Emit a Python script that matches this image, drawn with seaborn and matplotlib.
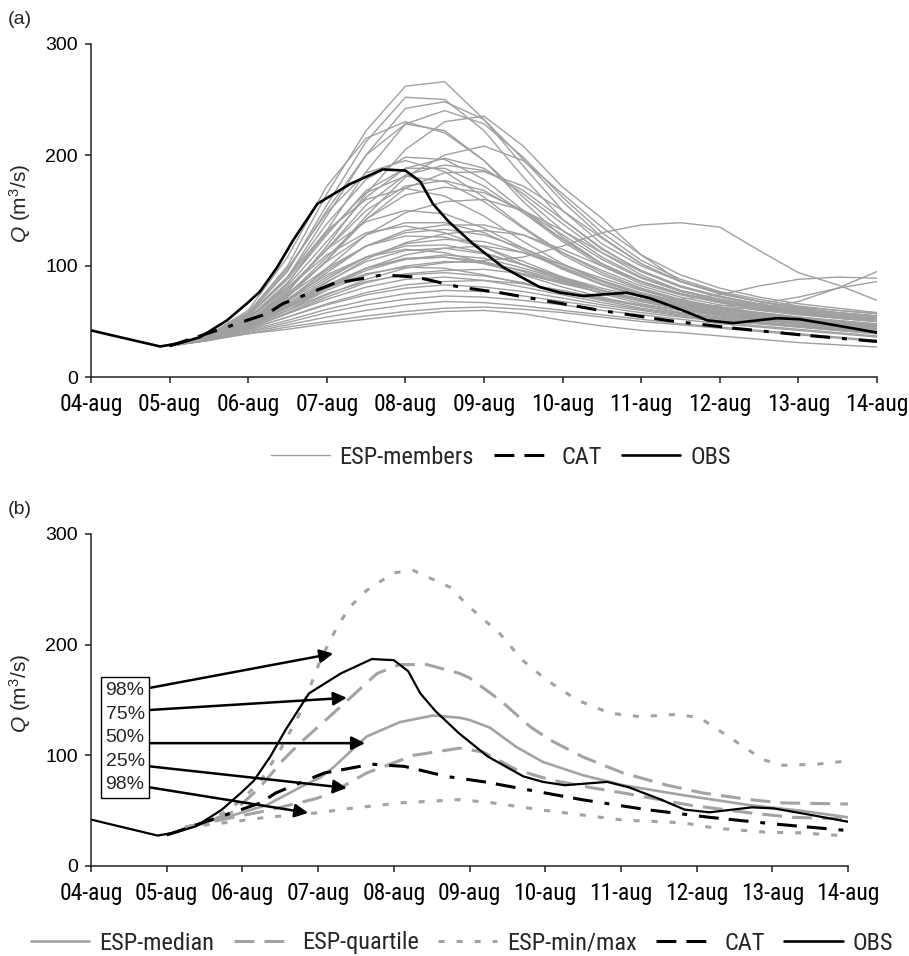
import numpy as np
import pandas as pd
import matplotlib
matplotlib.use("Agg")
import matplotlib.pyplot as plt
from matplotlib.lines import Line2D
from matplotlib import font_manager as fm
from matplotlib.font_manager import FontProperties
import seaborn as sns

# ---------------- data ----------------
tick_labels = ["04-aug", "05-aug", "06-aug", "07-aug", "08-aug", "09-aug",
               "10-aug", "11-aug", "12-aug", "13-aug", "14-aug"]

obs_days = [0, 0.24, 0.88, 1.13, 1.39, 1.73, 1.98, 2.15, 2.37, 2.57, 2.88, 3.30,
            3.71, 4.0, 4.19, 4.35, 4.55, 4.86, 5.24, 5.71, 5.97, 6.26, 6.82, 7.11,
            7.53, 7.84, 8.17, 8.73, 9.02, 9.44, 10.0]
obs_q = [42, 38, 27.5, 30.5, 36, 51, 66, 77, 99, 123, 156, 174,
         187, 186, 176, 156, 140, 120, 99, 81, 76, 73, 76, 71,
         60, 51, 48.5, 53, 52, 47, 40]

cat_days = [1.0, 1.43, 2.24, 2.44, 3.08, 3.71, 4.14, 4.69, 5.2, 5.84, 6.48,
            7.33, 8.17, 9.02, 10.0]
cat_q = [28, 38, 57, 66, 84, 92, 90, 81, 76, 68, 60, 51, 44, 38, 32]

member_days = [1, 1.5, 2, 2.5, 3, 3.5, 4, 4.5, 5, 5.5, 6, 6.5, 7, 7.5, 8, 8.5, 9, 9.5, 10]
esp_members = [
    [28, 38, 58, 100, 165, 222, 262, 266, 232, 190, 150, 120, 100, 86, 76, 68, 62, 58, 55],
    [28, 38, 57, 95, 155, 212, 252, 250, 222, 180, 142, 115, 96, 82, 72, 65, 60, 56, 53],
    [28, 37, 55, 90, 145, 200, 242, 248, 232, 196, 158, 126, 102, 86, 75, 68, 62, 58, 55],
    [28, 36, 52, 84, 132, 185, 228, 240, 228, 198, 162, 130, 105, 88, 77, 70, 64, 60, 57],
    [28, 35, 50, 76, 118, 165, 205, 230, 235, 208, 171, 143, 110, 86, 76, 68, 63, 60, 57],
    [28, 38, 60, 108, 172, 215, 230, 220, 195, 162, 132, 108, 90, 78, 70, 64, 59, 55, 52],
    [28, 37, 56, 96, 150, 200, 228, 222, 195, 158, 126, 102, 86, 75, 68, 62, 58, 54, 51],
    [28, 35, 48, 72, 105, 145, 180, 200, 208, 195, 165, 135, 110, 92, 80, 72, 66, 62, 58],
    [28, 37, 55, 90, 138, 178, 198, 196, 178, 150, 124, 102, 86, 75, 67, 61, 57, 53, 50],
    [28, 36, 52, 82, 122, 162, 188, 197, 188, 165, 138, 112, 92, 78, 70, 64, 59, 55, 52],
    [28, 38, 58, 98, 148, 184, 195, 185, 162, 135, 112, 94, 80, 70, 63, 58, 54, 50, 47],
    [28, 35, 50, 78, 115, 155, 182, 191, 186, 168, 142, 116, 95, 81, 72, 65, 60, 56, 53],
    [28, 36, 53, 85, 128, 168, 188, 188, 172, 148, 122, 100, 84, 74, 67, 61, 57, 53, 50],
    [28, 35, 48, 72, 105, 142, 170, 184, 185, 172, 150, 125, 102, 86, 75, 68, 62, 58, 55],
    [28, 37, 55, 88, 130, 166, 181, 176, 158, 134, 110, 92, 79, 69, 62, 57, 53, 50, 47],
    [28, 36, 50, 78, 115, 150, 172, 177, 168, 148, 124, 102, 86, 75, 68, 62, 58, 54, 51],
    [28, 35, 49, 74, 108, 142, 164, 171, 166, 150, 128, 106, 89, 77, 69, 63, 58, 55, 52],
    [28, 37, 56, 90, 132, 160, 170, 163, 145, 122, 102, 86, 74, 66, 60, 55, 51, 48, 45],
    [28, 35, 47, 68, 98, 128, 148, 158, 160, 150, 132, 112, 95, 82, 73, 66, 61, 57, 54],
    [28, 36, 52, 80, 115, 140, 150, 147, 134, 116, 98, 84, 73, 65, 59, 55, 51, 48, 45],
    [28, 36, 50, 75, 104, 128, 139, 139, 130, 114, 97, 83, 72, 64, 58, 54, 50, 47, 44],
    [28, 35, 47, 68, 94, 118, 132, 137, 137, 128, 112, 96, 82, 72, 65, 60, 56, 53, 50],
    [28, 37, 54, 80, 110, 130, 136, 130, 117, 101, 87, 75, 66, 60, 55, 51, 48, 45, 42],
    [28, 35, 48, 70, 96, 118, 130, 133, 128, 116, 101, 87, 76, 68, 62, 57, 53, 50, 47],
    [28, 34, 45, 63, 85, 106, 121, 129, 132, 128, 115, 100, 86, 75, 68, 62, 58, 55, 52],
    [28, 36, 50, 73, 98, 118, 127, 126, 117, 104, 90, 78, 68, 61, 56, 52, 48, 45, 42],
    [28, 35, 47, 66, 88, 108, 120, 124, 122, 112, 99, 86, 75, 67, 61, 56, 52, 49, 46],
    [28, 36, 49, 68, 90, 108, 118, 119, 112, 101, 89, 78, 69, 62, 57, 53, 49, 46, 43],
    [28, 34, 45, 60, 80, 98, 110, 116, 118, 112, 101, 89, 78, 69, 63, 58, 54, 51, 48],
    [28, 36, 50, 70, 92, 108, 115, 112, 103, 92, 81, 72, 64, 58, 53, 49, 46, 43, 40],
    [28, 34, 44, 58, 74, 88, 98, 103, 105, 108, 118, 130, 137, 139, 135, 114, 94, 83, 69],
    [28, 35, 47, 64, 83, 98, 106, 108, 104, 95, 85, 76, 68, 62, 57, 53, 49, 46, 43],
    [28, 34, 45, 60, 78, 92, 100, 104, 103, 96, 87, 78, 70, 63, 58, 54, 50, 47, 44],
    [28, 35, 47, 63, 80, 93, 99, 98, 92, 84, 76, 69, 62, 57, 53, 49, 46, 43, 40],
    [28, 34, 44, 57, 72, 85, 93, 96, 97, 93, 86, 78, 70, 64, 59, 55, 51, 48, 45],
    [28, 35, 46, 60, 75, 86, 92, 94, 91, 85, 77, 70, 64, 58, 54, 50, 47, 44, 41],
    [28, 34, 44, 57, 70, 81, 88, 90, 87, 81, 74, 67, 61, 56, 52, 48, 45, 42, 39],
    [28, 34, 43, 54, 66, 76, 83, 86, 87, 84, 78, 71, 65, 60, 56, 52, 49, 46, 43],
    [28, 34, 43, 54, 65, 74, 80, 83, 81, 77, 71, 65, 60, 55, 51, 48, 45, 42, 39],
    [28, 33, 42, 51, 61, 69, 75, 78, 77, 73, 68, 63, 58, 54, 50, 46, 43, 40, 37],
    [28, 33, 41, 49, 58, 65, 70, 73, 72, 69, 65, 60, 56, 52, 48, 45, 42, 39, 36],
    [28, 33, 40, 47, 54, 60, 65, 68, 67, 64, 60, 56, 52, 48, 45, 42, 39, 36, 33],
    [28, 33, 39, 45, 50, 55, 59, 62, 63, 61, 58, 54, 50, 47, 44, 41, 38, 35, 32],
    [28, 34, 39, 43, 48, 52, 56, 59, 60, 57, 51, 46, 42, 40, 37, 34, 31, 29, 27],
    [28, 35, 46, 62, 80, 96, 106, 110, 107, 98, 88, 78, 70, 65, 62, 62, 68, 80, 95],
    [28, 35, 47, 65, 86, 104, 114, 116, 111, 101, 90, 80, 72, 70, 74, 82, 88, 90, 89],
    [28, 35, 46, 63, 82, 98, 107, 108, 102, 93, 84, 76, 70, 66, 64, 66, 72, 80, 86],
]

# panel (b) ensemble statistics
max_days = [1.25, 1.5, 1.75, 2.0, 2.25, 2.5, 2.76, 3.03, 3.25, 3.42, 3.64, 4.0, 4.26,
            4.74, 5.0, 5.4, 5.7, 6.02, 6.42, 6.86, 7.25, 7.74, 8.04, 8.44, 8.88,
            9.14, 9.59, 10.0]
max_q = [35, 40, 48, 60, 78, 105, 138, 186, 216, 234, 249, 265, 267,
         252, 234, 210, 186, 168, 150, 138, 135, 137, 134, 116, 96, 91, 92, 95]

upq_days = [1.25, 1.5, 1.88, 2.23, 2.54, 2.76, 3.2, 3.78, 4.08, 4.44, 4.87, 5.0,
            5.4, 5.8, 6.06, 6.5, 7.03, 7.61, 8.08, 8.7, 9.14, 10.0]
upq_q = [35, 39, 49, 71, 96, 111, 138, 174, 182, 182, 174, 170,
         150, 126, 114, 98.5, 84, 73, 66, 60, 57, 56]

med_days = [1.25, 1.88, 2.32, 2.76, 3.03, 3.2, 3.64, 4.08, 4.52, 4.87, 5.0, 5.27,
            5.62, 5.97, 6.5, 7.03, 7.82, 8.7, 9.37, 10.0]
med_q = [35, 46, 55, 71, 80, 89, 117, 130, 136, 134, 132, 125,
         107.5, 94, 82, 73, 64, 55, 50, 44]

loq_days = [1.25, 1.88, 2.32, 2.98, 3.2, 3.64, 4.26, 4.87, 5.18, 5.62, 6.06, 6.59,
            7.03, 7.91, 8.7, 9.27, 10.0]
loq_q = [35, 44, 50, 61, 67, 84, 100, 106.5, 103, 87, 78, 71, 66, 55, 48, 44, 42.5]

min_days = [1.25, 1.88, 2.32, 2.98, 3.42, 4.08, 4.87, 5.31, 5.97, 6.5, 7.03, 7.82,
            8.27, 8.93, 9.37, 10.0]
min_q = [35, 40, 44, 48, 52, 57, 60, 57, 50.5, 46, 41.5, 39, 34, 30.5, 30, 27]

pct_labels = ["98%", "75%", "50%", "25%", "98%"]
arrow_start = [(0.78, 161), (0.78, 141), (0.78, 111), (0.78, 90), (0.78, 71)]
arrow_end = [(3.20, 192), (3.38, 152), (3.62, 111), (3.38, 70.5), (2.87, 48)]

# ---------------- style ----------------
sns.set_theme(style="ticks")
names = {f.name for f in fm.fontManager.ttflist}
REG = "Liberation Sans" if "Liberation Sans" in names else "DejaVu Sans"
plt.rcParams["font.family"] = [REG, "DejaVu Sans"]
plt.rcParams["mathtext.fontset"] = "custom"
plt.rcParams["mathtext.rm"] = REG
plt.rcParams["mathtext.it"] = REG + ":italic"


def find_narrow():
    prefs = ["liberationsansnarrow-regular", "liberationsansnarrow", "arialn",
             "robotocondensed-regular", "robotocondensed", "opensanscondensed",
             "notosans-condensed.", "notosanscondensed", "dejavusanscondensed.",
             "dejavusanscondensed"]
    files = [f.fname for f in fm.fontManager.ttflist]
    for p in prefs:
        for fn in files:
            base = fn.lower().replace(" ", "").replace("_", "").split("/")[-1]
            if base.startswith(p) and "bold" not in base and "italic" not in base \
                    and "oblique" not in base:
                return fn
    return None


NARROW_FILE = find_narrow()

GRAY = "#a0a0a0"
SGRAY = "#a3a3a3"
CAT_DASH = (6.5, 3.3, 6.5, 3.9, 1.6, 3.9)
Q_DASH = (6.5, 3.3)
MM_DASH = (2.0, 3.9)

fig = plt.figure(figsize=(9.09, 9.56), dpi=100)
renderer = fig.canvas.get_renderer()


def narrow_prop(sample, target_px, max_size):
    if NARROW_FILE:
        prop = FontProperties(fname=NARROW_FILE, size=10)
    else:
        prop = FontProperties(family=REG, size=10)
    t = fig.text(0, 0, sample, fontproperties=prop)
    w = t.get_window_extent(renderer=renderer).width
    t.remove()
    size = min(max_size, 10 * target_px / w)
    prop.set_size(size)
    return prop


tick_prop = narrow_prop("04-aug", 63, 18)
leg_prop = narrow_prop("ESP-members", 134, 18)

ax1 = fig.add_axes([91 / 909, 1 - 377 / 956, (877 - 91) / 909, (377 - 44) / 956])
ax2 = fig.add_axes([91 / 909, 1 - 866 / 956, (848 - 91) / 909, (866 - 534) / 956])

# panel (a)
df_members = pd.DataFrame(
    [(i, d, q) for i, vals in enumerate(esp_members) for d, q in zip(member_days, vals)],
    columns=["member", "day", "Q"])
sns.lineplot(data=df_members, x="day", y="Q", units="member", estimator=None,
             color=GRAY, lw=1.0, ax=ax1, legend=False, sort=False)
sns.lineplot(x=cat_days, y=cat_q, color="black", lw=2.2, ax=ax1)
ax1.lines[-1].set_dashes(CAT_DASH)
sns.lineplot(x=obs_days, y=obs_q, color="black", lw=1.9, ax=ax1)

# panel (b)
sns.lineplot(x=min_days, y=min_q, color=SGRAY, lw=2.2, ax=ax2)
ax2.lines[-1].set_dashes(MM_DASH)
sns.lineplot(x=max_days, y=max_q, color=SGRAY, lw=2.2, ax=ax2)
ax2.lines[-1].set_dashes(MM_DASH)
sns.lineplot(x=loq_days, y=loq_q, color=SGRAY, lw=2.2, ax=ax2)
ax2.lines[-1].set_dashes(Q_DASH)
sns.lineplot(x=upq_days, y=upq_q, color=SGRAY, lw=2.2, ax=ax2)
ax2.lines[-1].set_dashes(Q_DASH)
sns.lineplot(x=med_days, y=med_q, color=SGRAY, lw=1.9, ax=ax2)
sns.lineplot(x=cat_days, y=cat_q, color="black", lw=2.2, ax=ax2)
ax2.lines[-1].set_dashes(CAT_DASH)
sns.lineplot(x=obs_days, y=obs_q, color="black", lw=1.6, ax=ax2)

for (xs, ys), (xe, ye) in zip(arrow_start, arrow_end):
    ax2.annotate("", xy=(xe, ye), xytext=(xs, ys), xycoords="data", textcoords="data",
                 arrowprops=dict(arrowstyle="-|>", lw=1.8, color="black",
                                 mutation_scale=20, shrinkA=0, shrinkB=0), zorder=5)
ax2.text(0.045, 0.387, "\n".join(pct_labels), transform=ax2.transAxes,
         ha="center", va="center", fontsize=14, linespacing=1.5, zorder=6,
         bbox=dict(boxstyle="square,pad=0.25", fc="white", ec="black", lw=1.0))

for ax in (ax1, ax2):
    ax.set_xlim(0, 10)
    ax.set_ylim(0, 300)
    ax.set_xticks(range(len(tick_labels)))
    ax.set_xticklabels(tick_labels)
    for lbl in ax.get_xticklabels():
        lbl.set_fontproperties(tick_prop)
    ax.set_yticks([0, 100, 200, 300])
    ax.set_yticklabels(["0", "100", "200", "300"], fontsize=14)
    ax.set_xlabel("")
    ax.set_ylabel("$Q$ (m$^3$/s)", fontsize=15)
    for s in ("top", "right"):
        ax.spines[s].set_visible(False)
    for s in ("left", "bottom"):
        ax.spines[s].set_color("#222222")
        ax.spines[s].set_linewidth(1.1)
    ax.tick_params(axis="both", direction="out", length=4.5, width=1.1,
                   color="#222222", labelcolor="black")
    ax.tick_params(axis="x", pad=7)
    ax.tick_params(axis="y", pad=5)
    ax.set_facecolor("white")

ax1.yaxis.set_label_coords(-0.074, 0.52)
ax2.yaxis.set_label_coords(-0.077, 0.52)

fig.text(8 / 909, 1 - 19 / 956, "(a)", fontsize=14, va="center", ha="left")
fig.text(8 / 909, 1 - 510 / 956, "(b)", fontsize=14, va="center", ha="left")

# legends
h_mem = Line2D([], [], color=GRAY, lw=1.0)
h_cat = Line2D([], [], color="black", lw=2.2, dashes=CAT_DASH)
h_obs = Line2D([], [], color="black", lw=1.9)
fig.legend([h_mem, h_cat, h_obs], ["ESP-members", "CAT", "OBS"],
           loc="center", bbox_to_anchor=(501 / 909, 1 - 457 / 956), ncol=3,
           frameon=False, prop=leg_prop,
           handlelength=2.4, handletextpad=0.4, columnspacing=0.8)

h_med = Line2D([], [], color=SGRAY, lw=1.9)
h_q = Line2D([], [], color=SGRAY, lw=2.2, dashes=Q_DASH)
h_mm = Line2D([], [], color=SGRAY, lw=2.2, dashes=MM_DASH)
fig.legend([h_med, h_q, h_mm, h_cat, h_obs],
           ["ESP-median", "ESP-quartile", "ESP-min/max", "CAT", "OBS"],
           loc="center", bbox_to_anchor=(462 / 909, 1 - 943 / 956), ncol=5,
           frameon=False, prop=leg_prop,
           handlelength=2.4, handletextpad=0.4, columnspacing=0.8)

fig.savefig("out.png", dpi=100, facecolor="white")
